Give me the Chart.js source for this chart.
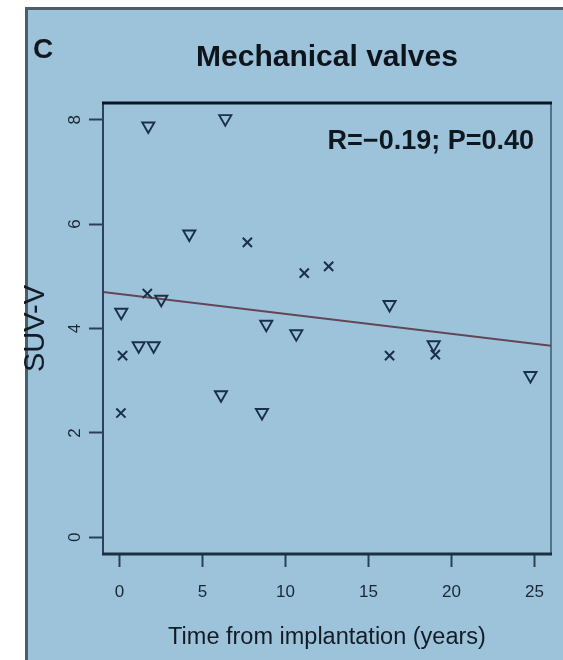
<!DOCTYPE html>
<html>
<head>
<meta charset="utf-8">
<script src="https://cdn.jsdelivr.net/npm/chart.js@4"></script>
<style>
	body { margin: 0; background: #ffffff; }
	canvas { display: block; }
</style>
</head>
<body>
<canvas id="myChart" width="563" height="660"></canvas>
<script>
// triangles (pointing down)
var triX = [1.73, 6.37, 4.2, 2.51, 0.1, 8.84, 10.65, 1.15, 2.05, 6.11, 8.58, 16.27, 18.93, 24.76];
var triY = [7.88, 8.02, 5.81, 4.56, 4.31, 4.08, 3.90, 3.67, 3.67, 2.73, 2.39, 4.46, 3.69, 3.10];
// crosses
var crossX = [7.7, 11.13, 12.6, 1.67, 0.18, 0.08, 16.27, 19.03];
var crossY = [5.65, 5.06, 5.19, 4.67, 3.48, 2.38, 3.48, 3.50];
// regression line ends
var fitX = [-1, 26];
var fitY = [4.70, 3.67];

var xTicks = [0, 5, 10, 15, 20, 25];
var yTicks = [0, 2, 4, 6, 8];

var titleText = 'Mechanical valves';
var panelLetter = 'C';
var statText = 'R=\u22120.19; P=0.40';
var xTitle = 'Time from implantation (years)';
var yTitle = 'SUV-V';

function toPoints(xs, ys) {
	var arr = [];
	for (let i = 0; i < xs.length; i++) {
		arr.push({x: xs[i], y: ys[i]});
	}
	return arr;
};

var dark = '#1a3047';
var panelBg = '#9dc3db';

var panelPlugin = {
	id: 'panel',
	beforeDraw: function(chart) {
		var ctx = chart.ctx;
		ctx.save();
		ctx.fillStyle = '#ffffff';
		ctx.fillRect(0, 0, chart.width, chart.height);
		ctx.fillStyle = panelBg;
		ctx.fillRect(25, 7, chart.width - 25, chart.height - 7);
		ctx.fillStyle = '#4b5c6b';
		ctx.fillRect(25, 7, 3, chart.height - 7);
		ctx.fillRect(25, 7, chart.width - 25, 3);
		ctx.restore();
	},
	afterDraw: function(chart) {
		var ctx = chart.ctx;
		var a = chart.chartArea;
		ctx.save();
		// plot frame
		ctx.strokeStyle = '#2a4258';
		ctx.lineWidth = 2;
		ctx.beginPath();
		ctx.moveTo(a.left, a.top);
		ctx.lineTo(a.left, a.bottom);
		ctx.stroke();
		ctx.lineWidth = 1.5;
		ctx.strokeStyle = '#3c5870';
		ctx.beginPath();
		ctx.moveTo(a.right, a.top);
		ctx.lineTo(a.right, a.bottom);
		ctx.stroke();
		ctx.lineWidth = 3;
		ctx.strokeStyle = '#1d3043';
		ctx.beginPath();
		ctx.moveTo(a.left - 1, a.bottom);
		ctx.lineTo(a.right + 1, a.bottom);
		ctx.stroke();
		ctx.strokeStyle = '#0b1520';
		ctx.beginPath();
		ctx.moveTo(a.left - 1, a.top);
		ctx.lineTo(a.right + 1, a.top);
		ctx.stroke();

		ctx.fillStyle = '#10171f';
		ctx.font = 'bold 28px "Liberation Sans", Arial, sans-serif';
		ctx.textAlign = 'left';
		ctx.textBaseline = 'alphabetic';
		ctx.fillText(panelLetter, 33, 58);

		ctx.font = 'bold 27px "Liberation Sans", Arial, sans-serif';
		ctx.textAlign = 'right';
		ctx.fillText(statText, 534, 149);
		ctx.restore();
	}
};

var ctx = document.getElementById('myChart');
var chart = new Chart(ctx, {
	type: 'scatter',
	data: {
		datasets: [{
			label: 'triangles',
			data: toPoints(triX, triY),
			pointStyle: 'triangle',
			rotation: 180,
			pointRadius: 7,
			pointBorderWidth: 1.9,
			borderColor: dark,
			backgroundColor: 'rgba(0,0,0,0)'
		}, {
			label: 'crosses',
			data: toPoints(crossX, crossY),
			pointStyle: 'crossRot',
			pointRadius: 6.5,
			pointBorderWidth: 2,
			borderColor: dark,
			backgroundColor: dark
		}, {
			label: 'fit',
			type: 'line',
			data: toPoints(fitX, fitY),
			showLine: true,
			pointRadius: 0,
			borderWidth: 2,
			borderColor: '#624657'
		}]
	},
	options: {
		responsive: false,
		animation: false,
		devicePixelRatio: 1,
		layout: {padding: {left: 20, right: 12, top: 0, bottom: 0}},
		plugins: {
			legend: {display: false},
			tooltip: {enabled: false},
			title: {
				display: true,
				text: titleText,
				fullSize: false,
				color: '#0d141c',
				font: {family: '"Liberation Sans", Arial, sans-serif', size: 30, weight: 'bold', lineHeight: 1.2},
				padding: {top: 40, bottom: 27}
			}
		},
		scales: {
			x: {
				type: 'linear',
				min: -1,
				max: 26,
				afterFit: function(scale) { scale.height = 106; },
				afterBuildTicks: function(scale) { scale.ticks = xTicks.map(v => ({value: v})); },
				border: {display: false},
				grid: {drawOnChartArea: false, drawTicks: true, tickLength: 13, tickWidth: 2, tickColor: '#2b3f52'},
				ticks: {
					padding: 15,
					color: '#1a2633',
					font: {family: '"Liberation Sans", Arial, sans-serif', size: 17}
				},
				title: {
					display: true,
					text: xTitle,
					color: '#131c26',
					font: {family: '"Liberation Sans", Arial, sans-serif', size: 23.5, lineHeight: 1.2},
					padding: {top: 0, bottom: 8}
				}
			},
			y: {
				type: 'linear',
				min: -0.32,
				max: 8.32,
				afterFit: function(scale) { scale.width = 83; },
				afterBuildTicks: function(scale) { scale.ticks = yTicks.map(v => ({value: v})); },
				border: {display: false},
				grid: {drawOnChartArea: false, drawTicks: true, tickLength: 14, tickWidth: 2, tickColor: '#2b3f52'},
				ticks: {
					minRotation: 90,
					maxRotation: 90,
					crossAlign: 'center',
					padding: 9,
					color: '#1a2633',
					font: {family: '"Liberation Sans", Arial, sans-serif', size: 17}
				},
				title: {
					display: true,
					text: yTitle,
					color: '#131c26',
					font: {family: '"Liberation Sans", Arial, sans-serif', size: 29, lineHeight: 1},
					padding: {top: 1, bottom: 0}
				}
			}
		}
	},
	plugins: [panelPlugin]
});
</script>
</body>
</html>
